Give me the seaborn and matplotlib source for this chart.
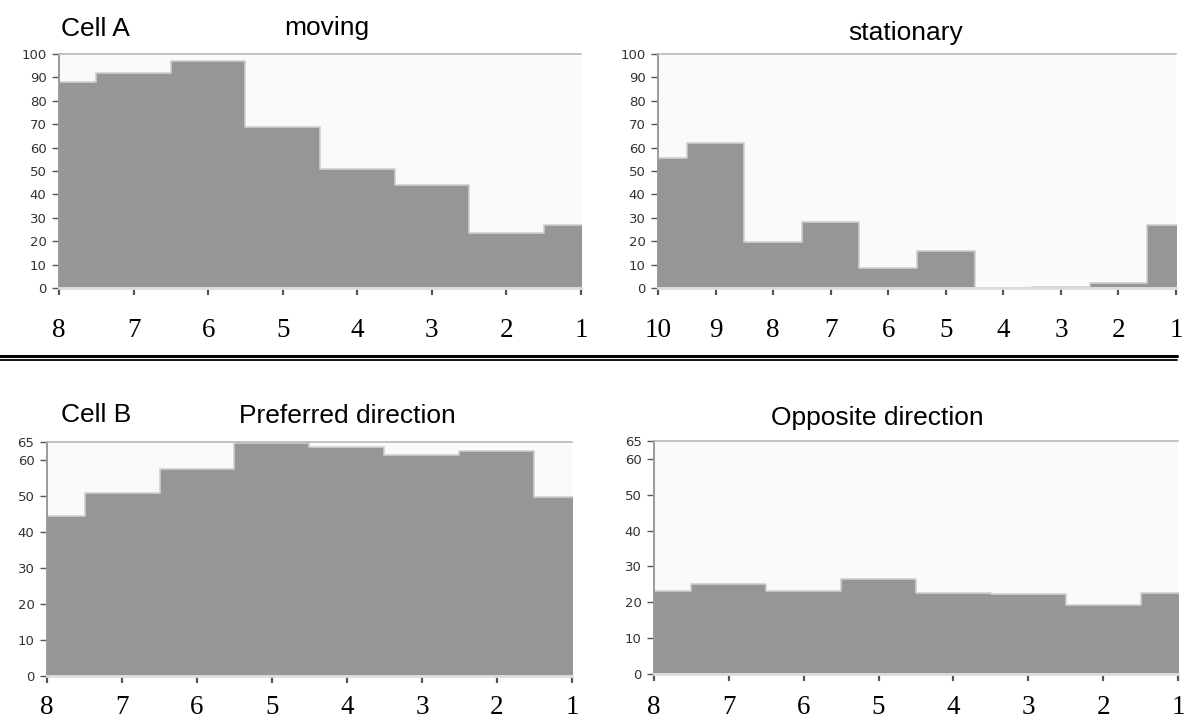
import matplotlib
matplotlib.use("Agg")
import matplotlib.pyplot as plt
from matplotlib.lines import Line2D
import seaborn as sns
import pandas as pd

# ---- data ----
moving_bins = [8, 7, 6, 5, 4, 3, 2, 1]
moving_vals = [88, 92, 97, 69, 51, 44, 23.5, 27]

stationary_bins = [10, 9, 8, 7, 6, 5, 4, 3, 2, 1]
stationary_vals = [55.6, 62, 19.5, 28, 8.7, 15.7, 0.2, 0.6, 2.2, 27]

preferred_bins = [8, 7, 6, 5, 4, 3, 2, 1]
preferred_vals = [44.5, 50.7, 57.5, 64.8, 63.6, 61.5, 62.4, 49.6]

opposite_bins = [8, 7, 6, 5, 4, 3, 2, 1]
opposite_vals = [23.2, 25.2, 23.2, 26.5, 22.7, 22.3, 19.2, 22.7]

yticks_top = [0, 10, 20, 30, 40, 50, 60, 70, 80, 90, 100]
yticks_bottom = [0, 10, 20, 30, 40, 50, 60, 65]

sns.set_theme(style="white")
plt.rcParams['font.family'] = ['DejaVu Sans']

W, H = 1185, 722
fig = plt.figure(figsize=(W / 100, H / 100), dpi=100)
fig.patch.set_facecolor("white")


def px_rect(left, right, top, bottom):
    return [left / W, 1 - bottom / H, (right - left) / W, (bottom - top) / H]


FILL = "#969696"
EDGE = "#cfcfcf"


def panel(rect, bins, vals, yticks, ymax, xpad):
    ax = fig.add_axes(rect)
    df = pd.DataFrame({"bin": bins, "count": vals})
    sns.histplot(data=df, x="bin", weights="count", discrete=True,
                 element="step", fill=True, color=FILL, alpha=1.0,
                 edgecolor=EDGE, linewidth=1.2, ax=ax)
    ax.set_facecolor("#fafafa")
    ax.set_xlim(max(bins), min(bins))
    ax.set_ylim(0, ymax)
    ax.set_xticks(bins)
    ax.set_xticklabels([str(b) for b in bins], family="Liberation Serif",
                       fontsize=19.5, color="black")
    ax.set_yticks(yticks)
    ax.set_yticklabels([str(t) for t in yticks], fontsize=9.5, color="#333333")
    ax.set_xlabel("")
    ax.set_ylabel("")
    ax.tick_params(axis="y", direction="out", length=5, width=1.0,
                   color="#555555", pad=4, left=True)
    ax.tick_params(axis="x", direction="out", length=5, width=1.6,
                   color="#555555", pad=xpad, bottom=True)
    ax.spines["top"].set_color("#b8b8b8")
    ax.spines["top"].set_linewidth(1.2)
    ax.spines["left"].set_color("#9a9a9a")
    ax.spines["left"].set_linewidth(1.4)
    ax.spines["right"].set_visible(False)
    ax.spines["bottom"].set_color("#dddddd")
    ax.spines["bottom"].set_linewidth(2)
    ax.grid(False)
    return ax


panel(px_rect(59, 581, 54, 288), moving_bins, moving_vals, yticks_top, 100, 16.5)
panel(px_rect(658, 1176, 54, 288), stationary_bins, stationary_vals, yticks_top, 100, 16.5)
panel(px_rect(47, 572, 442, 676), preferred_bins, preferred_vals, yticks_bottom, 65, 9)
panel(px_rect(654, 1178, 441, 674), opposite_bins, opposite_vals, yticks_bottom, 65, 10)

TF = dict(family="Liberation Sans", fontsize=19, color="black", va="baseline")
fig.text(61 / W, 1 - 36 / H, "Cell A", ha="left", **TF)
fig.text(327 / W, 1 - 35 / H, "moving", ha="center", **TF)
fig.text(906 / W, 1 - 40 / H, "stationary", ha="center", **TF)
fig.text(61 / W, 1 - 422 / H, "Cell B", ha="left", **TF)
fig.text(347 / W, 1 - 423 / H, "Preferred direction", ha="center", **TF)
fig.text(877 / W, 1 - 425 / H, "Opposite direction", ha="center", **TF)

# double separator line
fig.add_artist(Line2D([0, 1177 / W], [1 - 356 / H, 1 - 356 / H], color="black", lw=2.2))
fig.add_artist(Line2D([0, 1177 / W], [1 - 360 / H, 1 - 360 / H], color="black", lw=1.3))

fig.savefig("out.png", dpi=100, facecolor="white")
